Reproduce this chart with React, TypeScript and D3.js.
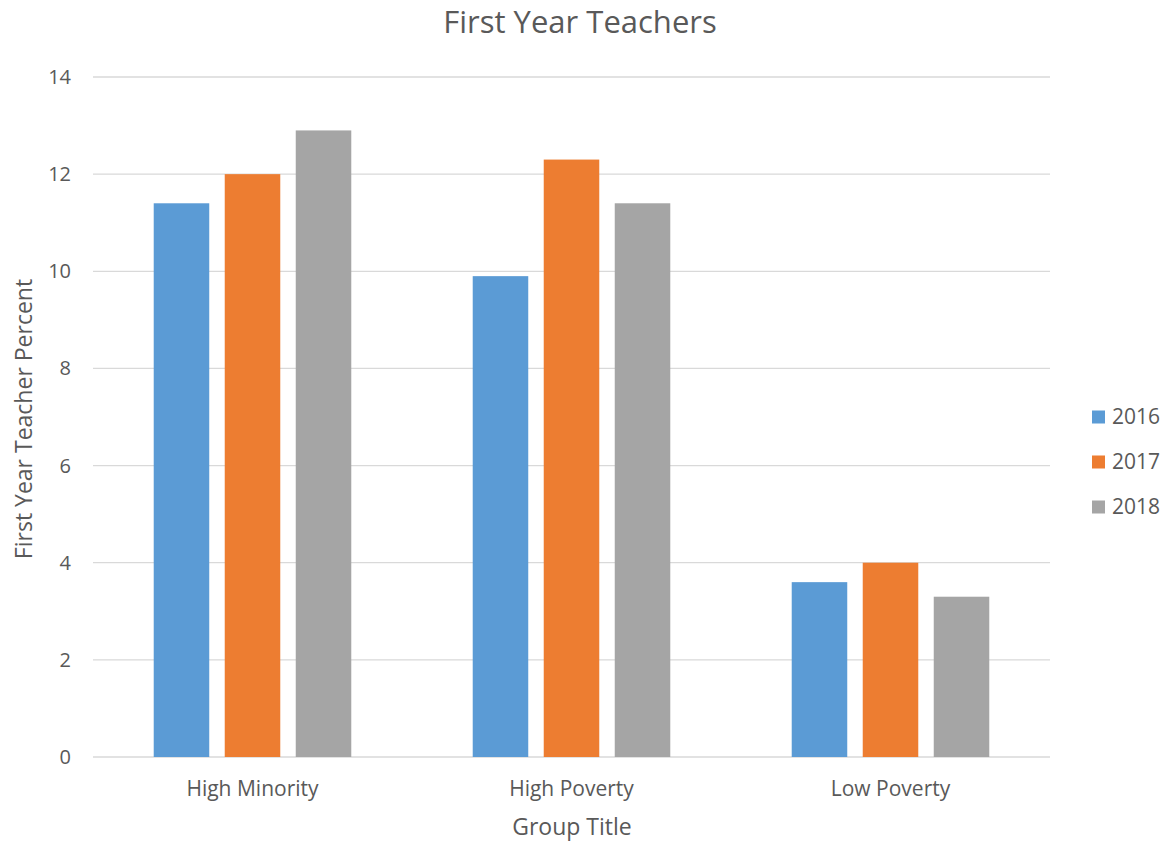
import React from "react";
import * as d3 from "d3";

const categories = ["High Minority", "High Poverty", "Low Poverty"];
const years = ["2016", "2017", "2018"];
const values2016 = [11.4, 9.9, 3.6];
const values2017 = [12.0, 12.3, 4.0];
const values2018 = [12.9, 11.4, 3.3];
const yTicks = [0, 2, 4, 6, 8, 10, 12, 14];
const colors = ["#5B9BD5", "#ED7D31", "#A5A5A5"];

const W = 1163;
const H = 842;
const left = 93;
const right = 1050;
const top = 77;
const bottom = 757;
const font = "'Open Sans', 'Noto Sans', sans-serif";
const textColor = "#595959";

export default function App() {
  const series = [values2016, values2017, values2018];
  const x0 = d3.scaleBand<string>().domain(categories).range([left, right]).padding(0);
  const x1 = d3
    .scaleBand<string>()
    .domain(years)
    .range([0, x0.bandwidth()])
    .paddingInner(0.218)
    .paddingOuter(0.855);
  const y = d3.scaleLinear().domain([0, 14]).range([bottom, top]);

  return (
    <svg width={W} height={H} style={{ position: "absolute", left: 0, top: 0, background: "#fff" }}>
      <rect x={0} y={0} width={W} height={H} fill="#fff" />
      <text x={580} y={22} dy="0.35em" textAnchor="middle" fontFamily={font} fontSize={31} fill={textColor}>
        First Year Teachers
      </text>
      {yTicks.map((t) => (
        <g key={t}>
          <line x1={left} x2={right} y1={y(t)} y2={y(t)} stroke="#D9D9D9" strokeWidth={1.3} />
          <text x={71} y={y(t)} dy="0.35em" textAnchor="end" fontFamily={font} fontSize={20} fill={textColor}>
            {t}
          </text>
        </g>
      ))}
      {categories.map((c, i) => (
        <g key={c}>
          {years.map((yr, j) => {
            const v = series[j][i];
            return (
              <rect
                key={yr}
                x={(x0(c) as number) + (x1(yr) as number)}
                y={y(v)}
                width={x1.bandwidth()}
                height={y(0) - y(v)}
                fill={colors[j]}
              />
            );
          })}
          <text
            x={(x0(c) as number) + x0.bandwidth() / 2}
            y={789}
            dy="0.35em"
            textAnchor="middle"
            fontFamily={font}
            fontSize={21}
            fill={textColor}
          >
            {c}
          </text>
        </g>
      ))}
      <text x={572} y={827} dy="0.35em" textAnchor="middle" fontFamily={font} fontSize={23} fill={textColor}>
        Group Title
      </text>
      <text
        transform={`translate(24,${(top + bottom) / 2 + 2}) rotate(-90)`}
        dy="0.35em"
        textAnchor="middle"
        fontFamily={font}
        fontSize={23}
        fill={textColor}
      >
        First Year Teacher Percent
      </text>
      {years.map((yr, j) => (
        <g key={yr} transform={`translate(1092,${417 + j * 45})`}>
          <rect x={0} y={-6.5} width={13} height={13} fill={colors[j]} />
          <text x={20} y={0} dy="0.35em" fontFamily={font} fontSize={21} fill={textColor}>
            {yr}
          </text>
        </g>
      ))}
    </svg>
  );
}
